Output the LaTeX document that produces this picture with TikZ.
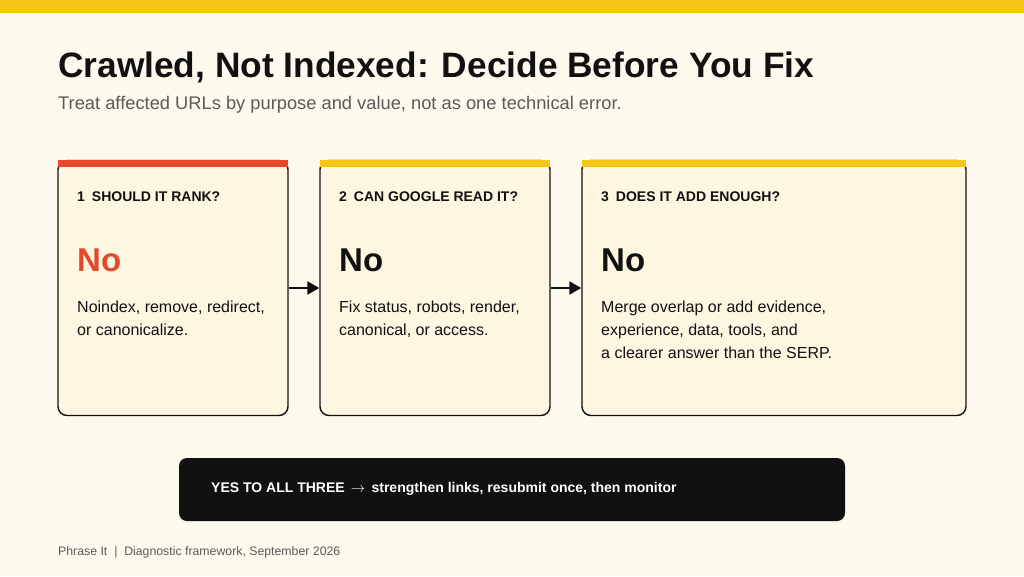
\documentclass[tikz,border=0pt]{standalone}
\usepackage{fontspec}
\setmainfont{Liberation Sans}
\usetikzlibrary{arrows.meta,positioning}

\definecolor{pagebg}{HTML}{FDF9EC}
\definecolor{barYellow}{HTML}{F5C518}
\definecolor{barRed}{HTML}{E14B2B}
\definecolor{cardbg}{HTML}{FEF6E1}
\definecolor{inkdark}{HTML}{111111}
\definecolor{subgray}{HTML}{5A5A5A}

\tikzset{
  card/.style={draw=inkdark, line width=1.4pt, fill=cardbg, rounded corners=9pt, inner sep=0pt},
  cardhead/.style={anchor=base west, inner sep=0pt, font=\bfseries\fontsize{14}{16}\selectfont, text=inkdark},
  verdict/.style={anchor=base west, inner sep=0pt, font=\bfseries\fontsize{33}{38}\selectfont, text=inkdark},
  cardbody/.style={anchor=north west, inner sep=0pt, align=left, font=\fontsize{16}{23}\selectfont, text=inkdark},
  flow/.style={-{Triangle[length=12pt,width=13pt]}, line width=2.4pt, draw=inkdark}
}

\begin{document}
\begin{tikzpicture}[x=1pt,y=-1pt]
  \useasboundingbox (0,0) rectangle (1024,576);
  \fill[pagebg] (0,0) rectangle (1024,576);
  \fill[barYellow] (0,0) rectangle (1024,13);

  % title
  \node[anchor=base west, inner sep=0pt, font=\bfseries\fontsize{35.3}{40}\selectfont, text=inkdark] (title) at (58,77) {Crawled, Not Indexed: Decide Before You Fix};
  \node[anchor=base west, inner sep=0pt, font=\fontsize{18.3}{22}\selectfont, text=subgray] (subtitle) at (58,109) {Treat affected URLs by purpose and value, not as one technical error.};

  % cards
  \node[card, minimum width=230pt, minimum height=255pt] (rank) at (173,288) {};
  \node[card, minimum width=230pt, minimum height=255pt] (read) at (435,288) {};
  \node[card, minimum width=384pt, minimum height=255pt] (adds) at (774,288) {};

  \fill[barRed] (58,160) rectangle (288,167);
  \fill[barYellow] (320,160) rectangle (550,167);
  \fill[barYellow] (582,160) rectangle (966,167);

  \node[cardhead] (rankhead) at (77,201) {1\enspace SHOULD IT RANK?};
  \node[cardhead] (readhead) at (339,201) {2\enspace CAN GOOGLE READ IT?};
  \node[cardhead] (addshead) at (601,201) {3\enspace DOES IT ADD ENOUGH?};

  \node[verdict, text=barRed] (rankno) at (77,271) {No};
  \node[verdict] (readno) at (339,271) {No};
  \node[verdict] (addsno) at (601,271) {No};

  \node[cardbody] (rankbody) at (77,301) {Noindex, remove, redirect,\\or canonicalize.};
  \node[cardbody] (readbody) at (339,301) {Fix status, robots, render,\\canonical, or access.};
  \node[cardbody] (addsbody) at (601,301) {Merge overlap or add evidence,\\experience, data, tools, and\\a clearer answer than the SERP.};

  \draw[flow] (rank.east) -- (read.west);
  \draw[flow] (read.east) -- (adds.west);

  % outcome bar
  \node[fill=inkdark, rounded corners=8pt, minimum width=666pt, minimum height=63pt, inner sep=0pt] (outcome) at (512,489.5) {};
  \node[anchor=base west, inner sep=0pt, text=white, font=\bfseries\fontsize{14}{16}\selectfont] (outcometext) at (211,492) {YES TO ALL THREE \,{\normalfont$\rightarrow$}\, strengthen links, resubmit once, then monitor};

  % footer
  \node[anchor=base west, inner sep=0pt, text=subgray, font=\fontsize{12.3}{14}\selectfont] (footer) at (58,555) {Phrase It \;|\; Diagnostic framework, September 2026};
\end{tikzpicture}
\end{document}
